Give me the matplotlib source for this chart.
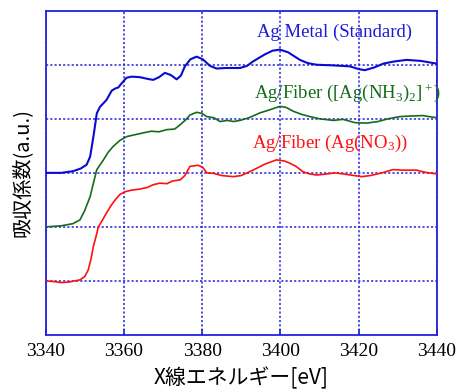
import matplotlib
matplotlib.use("Agg")
import matplotlib.pyplot as plt

# ---- data ----
blue_E = [3340, 3344, 3347, 3349, 3350.5, 3351.4, 3352.3, 3353.1, 3353.9, 3355.6, 3356.9, 3357.8, 3358.6,
          3359.5, 3360.7, 3362, 3364.1, 3366, 3367.5, 3369, 3370.5, 3372, 3373.5, 3374.6, 3375.6, 3377,
          3378.6, 3380.2, 3382, 3383.7, 3386, 3389.7, 3391.5, 3393, 3396, 3398, 3399.9, 3402, 3405,
          3407, 3409.3, 3413, 3417.8, 3420, 3421.6, 3424, 3426.3, 3429, 3432.3, 3436, 3440]
blue_y = [3.0, 3.0, 3.03, 3.08, 3.15, 3.3, 3.7, 4.1, 4.22, 4.35, 4.52, 4.56, 4.58,
          4.66, 4.76, 4.78, 4.77, 4.74, 4.72, 4.77, 4.85, 4.81, 4.73, 4.8, 4.97, 5.1,
          5.15, 5.1, 4.98, 4.93, 4.94, 4.94, 4.98, 5.06, 5.19, 5.26, 5.28, 5.23, 5.09,
          5.03, 5.0, 4.99, 4.97, 4.92, 4.9, 4.95, 5.02, 5.06, 5.09, 5.07, 5.02]

green_E = [3340, 3344, 3347, 3348.8, 3350, 3351.4, 3352.2, 3353.1, 3354.8, 3356, 3357.3, 3359, 3360.7,
           3362.5, 3365, 3367, 3369, 3371, 3373, 3374.4, 3375.8, 3376.9, 3378.6, 3380, 3381.2, 3383,
           3384.6, 3386.5, 3388, 3389.7, 3392, 3394.8, 3397, 3399.9, 3401.5, 3403.3, 3405.5, 3407.6,
           3410, 3413.6, 3416, 3419, 3422, 3425, 3427.5, 3430.5, 3433, 3436.4, 3438, 3440]
green_y = [2.0, 2.02, 2.06, 2.13, 2.3, 2.56, 2.8, 3.06, 3.24, 3.38, 3.49, 3.6, 3.67,
           3.7, 3.74, 3.77, 3.76, 3.8, 3.81, 3.89, 3.98, 4.07, 4.12, 4.1, 4.04, 4.02,
           3.95, 3.97, 3.95, 3.97, 4.02, 4.11, 4.16, 4.23, 4.21, 4.14, 4.08, 4.04,
           4.0, 3.97, 3.99, 3.93, 3.92, 3.95, 4.0, 4.04, 4.05, 4.06, 4.04, 4.02]

red_E = [3340, 3342, 3344, 3346, 3348.8, 3350, 3350.9, 3351.6, 3352.2, 3353, 3353.5, 3354.5, 3355.6,
         3356.6, 3357.8, 3359, 3360.3, 3362, 3364.1, 3366, 3367.5, 3369.2, 3371, 3372.5, 3374.4, 3375.6,
         3376.9, 3379, 3380.2, 3381.2, 3383, 3385, 3388, 3390, 3393, 3396, 3399, 3401, 3402.4,
         3404, 3405.8, 3407.5, 3409.3, 3412, 3414, 3417, 3420.8, 3423, 3426, 3428.8, 3431, 3434.8,
         3437, 3440]
red_y = [1.0, 0.99, 0.97, 0.98, 1.02, 1.08, 1.2, 1.4, 1.63, 1.85, 2.0, 2.12, 2.26,
         2.38, 2.5, 2.6, 2.65, 2.68, 2.7, 2.73, 2.78, 2.81, 2.8, 2.85, 2.87, 2.95,
         3.12, 3.14, 3.1, 3.0, 2.99, 2.95, 2.93, 2.95, 3.05, 3.16, 3.24, 3.22, 3.18,
         3.12, 3.02, 2.98, 2.96, 2.98, 3.0, 2.97, 2.93, 2.95, 3.0, 3.06, 3.05, 3.05,
         3.01, 2.98]

xticks = [3340, 3360, 3380, 3400, 3420, 3440]
yticks = [1, 2, 3, 4, 5]

plt.rcParams['mathtext.fontset'] = 'custom'
plt.rcParams['mathtext.rm'] = 'Liberation Serif'
plt.rcParams['mathtext.it'] = 'Liberation Serif:italic'
plt.rcParams['mathtext.default'] = 'rm'

fig = plt.figure(figsize=(4.57, 3.92), dpi=100)
ax = fig.add_axes([0.0996, 0.1454, 0.8564, 0.8273])

grid_c = '#2222dd'
ax.plot(blue_E, blue_y, color='#0a0ad0', lw=1.5, zorder=3)
ax.plot(green_E, green_y, color='#156b1a', lw=1.2, zorder=3)
ax.plot(red_E, red_y, color='#ff1010', lw=1.2, zorder=3)

ax.set_xlim(3340, 3440)
ax.set_ylim(0, 6)
ax.set_xticks(xticks)
ax.set_yticks(yticks)
ax.set_yticklabels([])
ax.grid(True, color=grid_c, linestyle=(0, (1.4, 1.4)), linewidth=1.1)
for s in ax.spines.values():
    s.set_color(grid_c)
    s.set_linewidth(1.3)
ax.tick_params(axis='both', direction='in', color=grid_c, length=4, width=1.2,
               right=True, top=False)
ax.tick_params(axis='y', length=0)
for lab in ax.get_xticklabels():
    lab.set_fontfamily('Liberation Serif')
    lab.set_fontsize(14)
ax.tick_params(axis='x', pad=6)

ax.set_xlabel('X線エネルギー[eV]', fontfamily=['Noto Sans CJK JP', 'DejaVu Sans'], fontsize=15, labelpad=5)
ax.set_ylabel('吸収係数(a.u.)', fontfamily=['Noto Sans CJK JP', 'DejaVu Sans'], fontsize=14.5, labelpad=6)

ax.text(3394.0, 5.51, 'Ag Metal (Standard)', color='#1a1ad8', fontfamily='Liberation Serif',
        fontsize=13.5, va='baseline', zorder=4)
ax.text(3393.3, 4.38, r'Ag/Fiber ([Ag(NH$_3$)$_2$]$^+$)', color='#156b1a', fontfamily='Liberation Serif',
        fontsize=13.5, va='baseline', zorder=4)
ax.text(3392.7, 3.46, r'Ag/Fiber (Ag(NO$_3$))', color='#ff1010', fontfamily='Liberation Serif',
        fontsize=13.5, va='baseline', zorder=4)

fig.savefig('out.png', dpi=100)
